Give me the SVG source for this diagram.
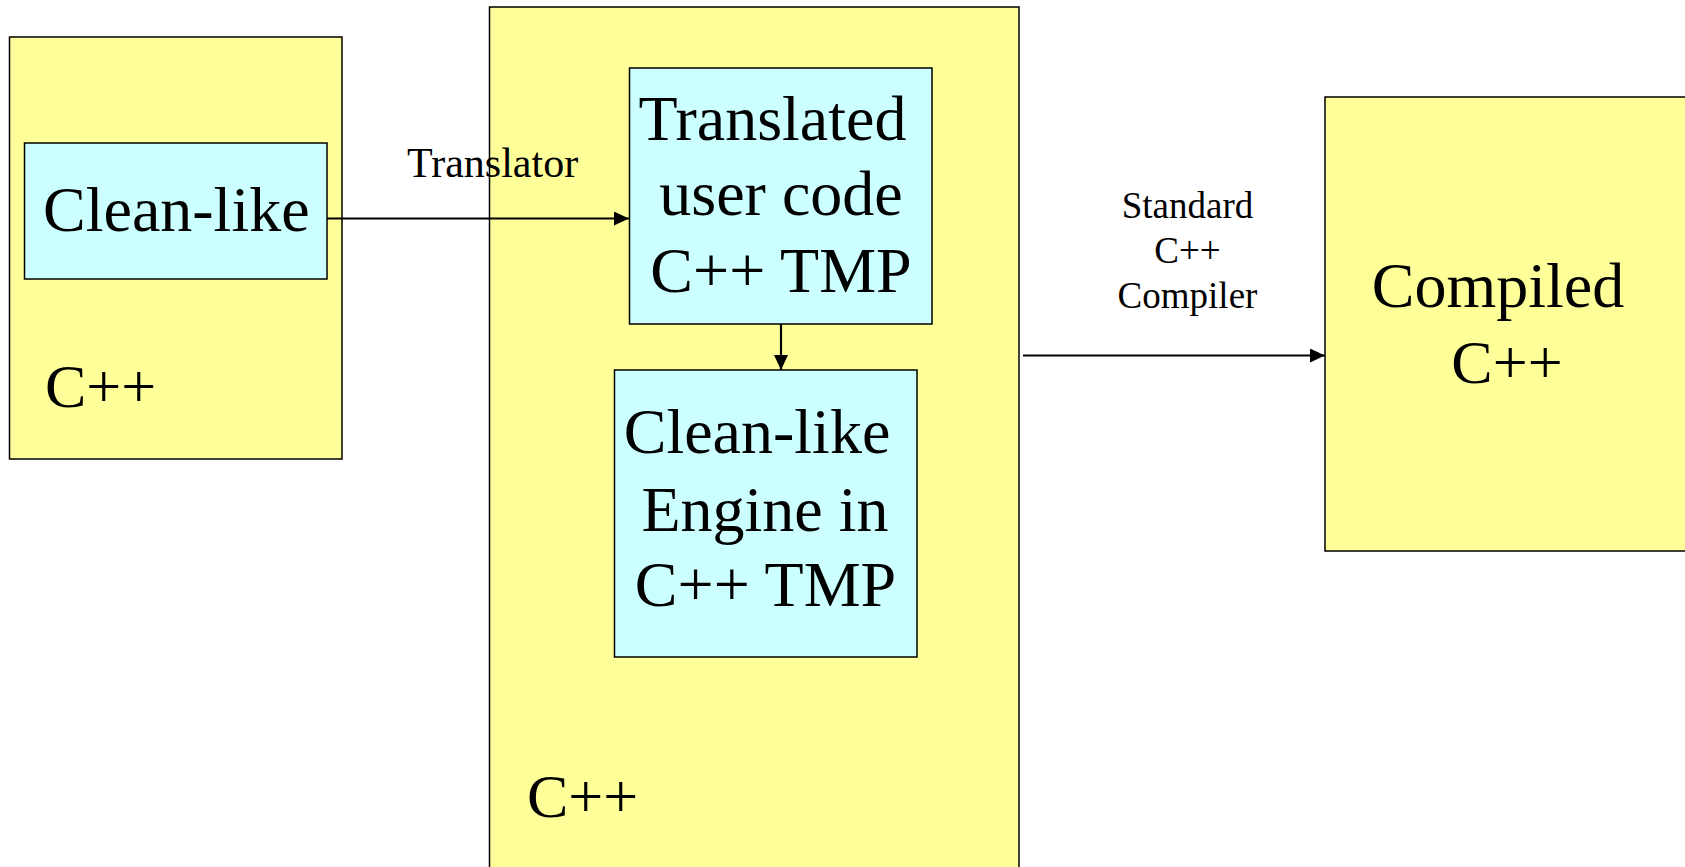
<svg xmlns="http://www.w3.org/2000/svg" width="1685" height="867" viewBox="0 0 1685 867">
  <style>
    .outer { fill: #FFFF99; stroke: #000; stroke-width: 1.5; }
    .inner { fill: #CCFFFF; stroke: #000; stroke-width: 1.5; }
    .big { font-family: "Liberation Serif", "Times New Roman", serif; font-size: 64px; fill: #000; }
    .cpp { font-size: 62px; }
    .c { text-anchor: middle; }
    .mid { font-family: "Liberation Serif", "Times New Roman", serif; font-size: 42px; fill: #000; }
    .small { font-family: "Liberation Serif", "Times New Roman", serif; font-size: 37px; fill: #000; text-anchor: middle; }
    .conn { stroke: #000; stroke-width: 2.2; fill: none; }
  </style>
  <defs>
    <marker id="arrow" viewBox="0 0 15 14" refX="15" refY="7" markerWidth="15" markerHeight="14" markerUnits="userSpaceOnUse" orient="auto">
      <path d="M0,0 L15,7 L0,14 Z" fill="#000"/>
    </marker>
  </defs>
  <rect width="1685" height="867" fill="#fff"/>

  <g id="left-cpp">
    <rect class="outer" x="9.5" y="37" width="332.5" height="422"/>
    <text class="big cpp" x="45" y="407">C++</text>
  </g>
  <g id="clean-like">
    <rect class="inner" x="24.5" y="143" width="302.5" height="136"/>
    <text class="big" x="43" y="231">Clean-like</text>
  </g>

  <g id="middle-cpp">
    <rect class="outer" x="489.5" y="7" width="529.5" height="880"/>
    <text class="big cpp" x="527" y="817">C++</text>
  </g>
  <g id="translated">
    <rect class="inner" x="629.5" y="68" width="302.5" height="256"/>
    <text class="big c" x="772.5" y="140">Translated</text>
    <text class="big c" x="781" y="215">user code</text>
    <text class="big c" x="781" y="292">C++ TMP</text>
  </g>
  <g id="engine">
    <rect class="inner" x="614.5" y="370" width="302.5" height="287"/>
    <text class="big c" x="757" y="453">Clean-like</text>
    <text class="big c" x="765" y="530.5">Engine in</text>
    <text class="big c" x="765.5" y="606">C++ TMP</text>
  </g>

  <g id="compiled">
    <rect class="outer" x="1325" y="97" width="400" height="454"/>
    <text class="big c" x="1498" y="307">Compiled</text>
    <text class="big c cpp" x="1507" y="383">C++</text>
  </g>

  <g id="connectors">
    <line class="conn" x1="327" y1="218.5" x2="629" y2="218.5" marker-end="url(#arrow)"/>
    <line class="conn" x1="781" y1="324" x2="781" y2="370" marker-end="url(#arrow)"/>
    <line class="conn" x1="1023" y1="355.5" x2="1325" y2="355.5" marker-end="url(#arrow)"/>
  </g>

  <g id="labels">
    <text class="mid" x="407" y="177">Translator</text>
    <text class="small" x="1187.5" y="218">Standard</text>
    <text class="small" x="1187.5" y="263">C++</text>
    <text class="small" x="1187.5" y="308">Compiler</text>
  </g>
</svg>
